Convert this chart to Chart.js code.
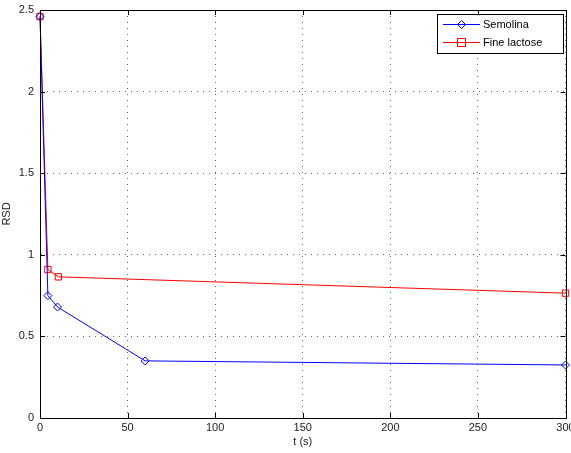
<!DOCTYPE html>
<html>
<head>
<meta charset="utf-8">
<script src="https://cdn.jsdelivr.net/npm/chart.js@4.4.1/dist/chart.umd.min.js"></script>
<style>
  html, body { margin: 0; padding: 0; background: #fff; }
  #wrap { width: 571px; height: 453px; }
</style>
</head>
<body>
<div id="wrap"><canvas id="rsdChart" width="571" height="453"></canvas></div>
<script>
// data
const semolinaTime = [0, 4.5, 10, 60, 300];
const semolinaRsd = [2.46, 0.75, 0.68, 0.35, 0.325];
const lactoseTime = [0, 4.5, 10.5, 300];
const lactoseRsd = [2.46, 0.91, 0.865, 0.765];

const xTicks = [0, 50, 100, 150, 200, 250, 300];
const yTicks = [0, 0.5, 1, 1.5, 2, 2.5];

const seriesNames = ["Semolina", "Fine lactose"];
const seriesColors = ["#0000ff", "#ff0000"];
const seriesMarkers = ["rectRot", "rect"];

function toPoints(xs, ys) {
  return xs.map((x, i) => ({ x: x, y: ys[i] }));
}

const tickFont = { family: "'Liberation Sans', Arial, sans-serif", size: 11 };

// box around the plot, inner tick marks and the legend (matlab look)
const matlabFrame = {
  id: "matlabFrame",
  afterDraw(chart) {
    const ctx = chart.ctx;
    const a = chart.chartArea;
    const xs = chart.scales.x;
    const ys = chart.scales.y;
    ctx.save();
    ctx.strokeStyle = "#000";
    ctx.lineWidth = 1;
    ctx.strokeRect(Math.round(a.left) + 0.5, Math.round(a.top) + 0.5,
      Math.round(a.right - a.left), Math.round(a.bottom - a.top));

    ctx.beginPath();
    xTicks.forEach(v => {
      const px = Math.round(xs.getPixelForValue(v)) + 0.5;
      ctx.moveTo(px, a.bottom); ctx.lineTo(px, a.bottom - 5);
      ctx.moveTo(px, a.top); ctx.lineTo(px, a.top + 5);
    });
    yTicks.forEach(v => {
      const py = Math.round(ys.getPixelForValue(v)) + 0.5;
      ctx.moveTo(a.left, py); ctx.lineTo(a.left + 5, py);
      ctx.moveTo(a.right, py); ctx.lineTo(a.right - 5, py);
    });
    ctx.stroke();

    // legend
    const lx = 437, ly = 14, lw = 126, lh = 39;
    ctx.fillStyle = "#fff";
    ctx.fillRect(lx, ly, lw, lh);
    ctx.strokeRect(lx + 0.5, ly + 0.5, lw, lh);
    ctx.font = "11px 'Liberation Sans', Arial, sans-serif";
    ctx.textBaseline = "middle";
    seriesNames.forEach((name, i) => {
      const y = ly + 10 + i * 18;
      ctx.strokeStyle = seriesColors[i];
      ctx.beginPath();
      ctx.moveTo(443, y + 0.5); ctx.lineTo(480, y + 0.5);
      ctx.stroke();
      ctx.beginPath();
      if (seriesMarkers[i] === "rect") {
        ctx.rect(457.5, y - 3.5, 8, 8);
      } else {
        ctx.moveTo(461.5, y - 3.5); ctx.lineTo(465.5, y + 0.5);
        ctx.lineTo(461.5, y + 4.5); ctx.lineTo(457.5, y + 0.5); ctx.closePath();
      }
      ctx.stroke();
      ctx.fillStyle = "#000";
      ctx.fillText(name, 483, y + 1);
    });
    ctx.restore();
  }
};

new Chart(document.getElementById("rsdChart"), {
  type: "line",
  data: {
    datasets: [
      {
        label: seriesNames[0],
        data: toPoints(semolinaTime, semolinaRsd),
        borderColor: seriesColors[0],
        borderWidth: 1,
        pointStyle: seriesMarkers[0],
        pointRadius: 4,
        pointBorderColor: seriesColors[0],
        pointBackgroundColor: "rgba(0,0,0,0)",
        pointBorderWidth: 1,
        tension: 0,
        clip: false
      },
      {
        label: seriesNames[1],
        data: toPoints(lactoseTime, lactoseRsd),
        borderColor: seriesColors[1],
        borderWidth: 1,
        pointStyle: seriesMarkers[1],
        pointRadius: 4.5,
        pointBorderColor: seriesColors[1],
        pointBackgroundColor: "rgba(0,0,0,0)",
        pointBorderWidth: 1,
        tension: 0,
        clip: false
      }
    ]
  },
  options: {
    responsive: false,
    animation: false,
    layout: { padding: { left: 0, right: 5, top: 10, bottom: 0 } },
    plugins: {
      legend: { display: false },
      tooltip: { enabled: false }
    },
    scales: {
      x: {
        type: "linear",
        min: 0,
        max: 300,
        afterBuildTicks: s => { s.ticks = xTicks.map(v => ({ value: v })); },
        afterFit: s => { s.height = 35; s.paddingLeft = 0; s.paddingRight = 0; },
        ticks: { font: tickFont, color: "#222", padding: 3, maxRotation: 0,
          callback: v => String(v) },
        grid: { color: "#666", drawTicks: false, lineWidth: 1 },
        border: { display: true, color: "#000", dash: [1, 5] },
        title: {
          display: true,
          text: "t (s)",
          font: tickFont,
          color: "#222",
          padding: { top: 0, bottom: 4 }
        }
      },
      y: {
        type: "linear",
        min: 0,
        max: 2.5,
        afterBuildTicks: s => { s.ticks = yTicks.map(v => ({ value: v })); },
        afterFit: s => { s.width = 40; s.paddingTop = 0; s.paddingBottom = 0; },
        ticks: { font: tickFont, color: "#222", padding: 6,
          callback: v => String(v) },
        grid: { color: "#666", drawTicks: false, lineWidth: 1 },
        border: { display: true, color: "#000", dash: [1, 5] },
        title: {
          display: true,
          text: "RSD",
          font: tickFont,
          color: "#222",
          padding: { top: 0, bottom: 0 }
        }
      }
    }
  },
  plugins: [matlabFrame]
});
</script>
</body>
</html>
